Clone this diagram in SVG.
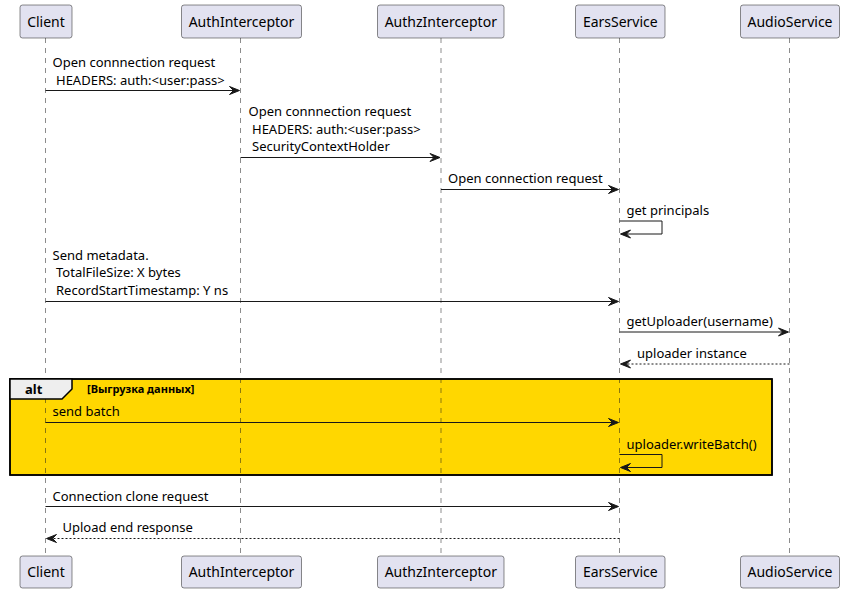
<svg xmlns="http://www.w3.org/2000/svg" width="844" height="593" viewBox="0 0 844 593">
<style>
.bg{fill:#FFFFFF}
.pbox{fill:#E2E2F0;stroke:#181818;stroke-width:0.5}
.pname{font-family:"Noto Sans","Open Sans",sans-serif;font-size:14px;fill:#000000;text-anchor:middle}
.life{stroke:#181818;stroke-width:0.5;stroke-dasharray:5,5;fill:none}
.msg{stroke:#181818;stroke-width:1;fill:none}
.ret{stroke:#181818;stroke-width:1;stroke-dasharray:2,2;fill:none}
.head{fill:#181818;stroke:#181818;stroke-width:1}
.lbl{font-family:"Noto Sans","Open Sans",sans-serif;font-size:13px;fill:#000000}
.frame{fill:#FFD700;stroke:#000000;stroke-width:1.5}
.frameb{fill:none;stroke:#000000;stroke-width:1.5}
.tab{fill:#EEEEEE;stroke:#000000;stroke-width:1.5}
.altk{font-family:"Noto Sans","Open Sans",sans-serif;font-size:13px;font-weight:bold;fill:#000000}
.guard{font-family:"Noto Sans","Open Sans",sans-serif;font-size:11px;font-weight:bold;fill:#000000}
</style>
<rect class="bg" x="0" y="0" width="844" height="593"/>

<g id="alt-fragment-bg">
<rect class="frame" x="10" y="379" width="762" height="96"/>
</g>

<g id="lifelines">
<line class="life" x1="45.5" y1="38" x2="45.5" y2="556"/>
<line class="life" x1="240.5" y1="38" x2="240.5" y2="556"/>
<line class="life" x1="441" y1="38" x2="441" y2="556"/>
<line class="life" x1="619.5" y1="38" x2="619.5" y2="556"/>
<line class="life" x1="789.5" y1="38" x2="789.5" y2="556"/>
</g>

<g id="alt-fragment">
<rect class="frameb" x="10" y="379" width="762" height="96"/>
<polygon class="tab" points="10,379 72,379 72,389 62,399 10,399"/>
<text class="altk" x="25" y="393.5">alt</text>
<text class="guard" x="87" y="393">[Выгрузка данных]</text>
</g>

<g id="Client">
<rect class="pbox" x="20" y="5" width="52" height="33" rx="2.5"/>
<text class="pname" x="46" y="26.5">Client</text>
<rect class="pbox" x="20" y="556" width="52" height="32" rx="2.5"/>
<text class="pname" x="46" y="577">Client</text>
</g>
<g id="AuthInterceptor">
<rect class="pbox" x="181.5" y="5" width="120" height="33" rx="2.5"/>
<text class="pname" x="241.5" y="26.5">AuthInterceptor</text>
<rect class="pbox" x="181.5" y="556" width="120" height="32" rx="2.5"/>
<text class="pname" x="241.5" y="577">AuthInterceptor</text>
</g>
<g id="AuthzInterceptor">
<rect class="pbox" x="377.5" y="5" width="126.5" height="33" rx="2.5"/>
<text class="pname" x="440.8" y="26.5">AuthzInterceptor</text>
<rect class="pbox" x="377.5" y="556" width="126.5" height="32" rx="2.5"/>
<text class="pname" x="440.8" y="577">AuthzInterceptor</text>
</g>
<g id="EarsService">
<rect class="pbox" x="575.5" y="5" width="89.5" height="33" rx="2.5"/>
<text class="pname" x="620.3" y="26.5">EarsService</text>
<rect class="pbox" x="575.5" y="556" width="89.5" height="32" rx="2.5"/>
<text class="pname" x="620.3" y="577">EarsService</text>
</g>
<g id="AudioService">
<rect class="pbox" x="740.5" y="5" width="99" height="33" rx="2.5"/>
<text class="pname" x="790" y="26.5">AudioService</text>
<rect class="pbox" x="740.5" y="556" width="99" height="32" rx="2.5"/>
<text class="pname" x="790" y="577">AudioService</text>
</g>

<g id="connectors">
<line class="msg" x1="45.5" y1="90.5" x2="238.5" y2="90.5"/>
<polygon class="head" points="229.5,86.5 239.5,90.5 229.5,94.5 233.5,90.5"/>
<text class="lbl" x="52.5" y="67">Open connnection request</text>
<text class="lbl" x="56" y="84.5">HEADERS: auth:&lt;user:pass&gt;</text>

<line class="msg" x1="240.5" y1="157.5" x2="439" y2="157.5"/>
<polygon class="head" points="430,153.5 440,157.5 430,161.5 434,157.5"/>
<text class="lbl" x="248.5" y="116">Open connnection request</text>
<text class="lbl" x="252" y="133.5">HEADERS: auth:&lt;user:pass&gt;</text>
<text class="lbl" x="252" y="151">SecurityContextHolder</text>

<line class="msg" x1="441" y1="189.5" x2="617.5" y2="189.5"/>
<polygon class="head" points="608.5,185.5 618.5,189.5 608.5,193.5 612.5,189.5"/>
<text class="lbl" x="448" y="183">Open connection request</text>

<polyline class="msg" points="619.5,221 662,221 662,234 621.5,234"/>
<polygon class="head" points="630.5,230 620.5,234 630.5,238 626.5,234"/>
<text class="lbl" x="626.5" y="215">get principals</text>

<line class="msg" x1="45.5" y1="301.5" x2="617.5" y2="301.5"/>
<polygon class="head" points="608.5,297.5 618.5,301.5 608.5,305.5 612.5,301.5"/>
<text class="lbl" x="52.5" y="259.5">Send metadata.</text>
<text class="lbl" x="56" y="277">TotalFileSize: X bytes</text>
<text class="lbl" x="56" y="295">RecordStartTimestamp: Y ns</text>

<line class="msg" x1="619.5" y1="332" x2="787.5" y2="332"/>
<polygon class="head" points="778.5,328 788.5,332 778.5,336 782.5,332"/>
<text class="lbl" x="626.5" y="325.5">getUploader(username)</text>

<line class="ret" x1="789.5" y1="364" x2="621.5" y2="364"/>
<polygon class="head" points="630.5,360 620.5,364 630.5,368 626.5,364"/>
<text class="lbl" x="637" y="357.5">uploader instance</text>

<line class="msg" x1="45.5" y1="422.5" x2="617.5" y2="422.5"/>
<polygon class="head" points="608.5,418.5 618.5,422.5 608.5,426.5 612.5,422.5"/>
<text class="lbl" x="52.5" y="416">send batch</text>

<polyline class="msg" points="619.5,454.5 662,454.5 662,467.5 621.5,467.5"/>
<polygon class="head" points="630.5,463.5 620.5,467.5 630.5,471.5 626.5,467.5"/>
<text class="lbl" x="626.5" y="448.5">uploader.writeBatch()</text>

<line class="msg" x1="45.5" y1="506.5" x2="617.5" y2="506.5"/>
<polygon class="head" points="608.5,502.5 618.5,506.5 608.5,510.5 612.5,506.5"/>
<text class="lbl" x="52.5" y="500.5">Connection clone request</text>

<line class="ret" x1="619.5" y1="538.5" x2="47.5" y2="538.5"/>
<polygon class="head" points="56.5,534.5 46.5,538.5 56.5,542.5 52.5,538.5"/>
<text class="lbl" x="62.5" y="532">Upload end response</text>
</g>
</svg>
